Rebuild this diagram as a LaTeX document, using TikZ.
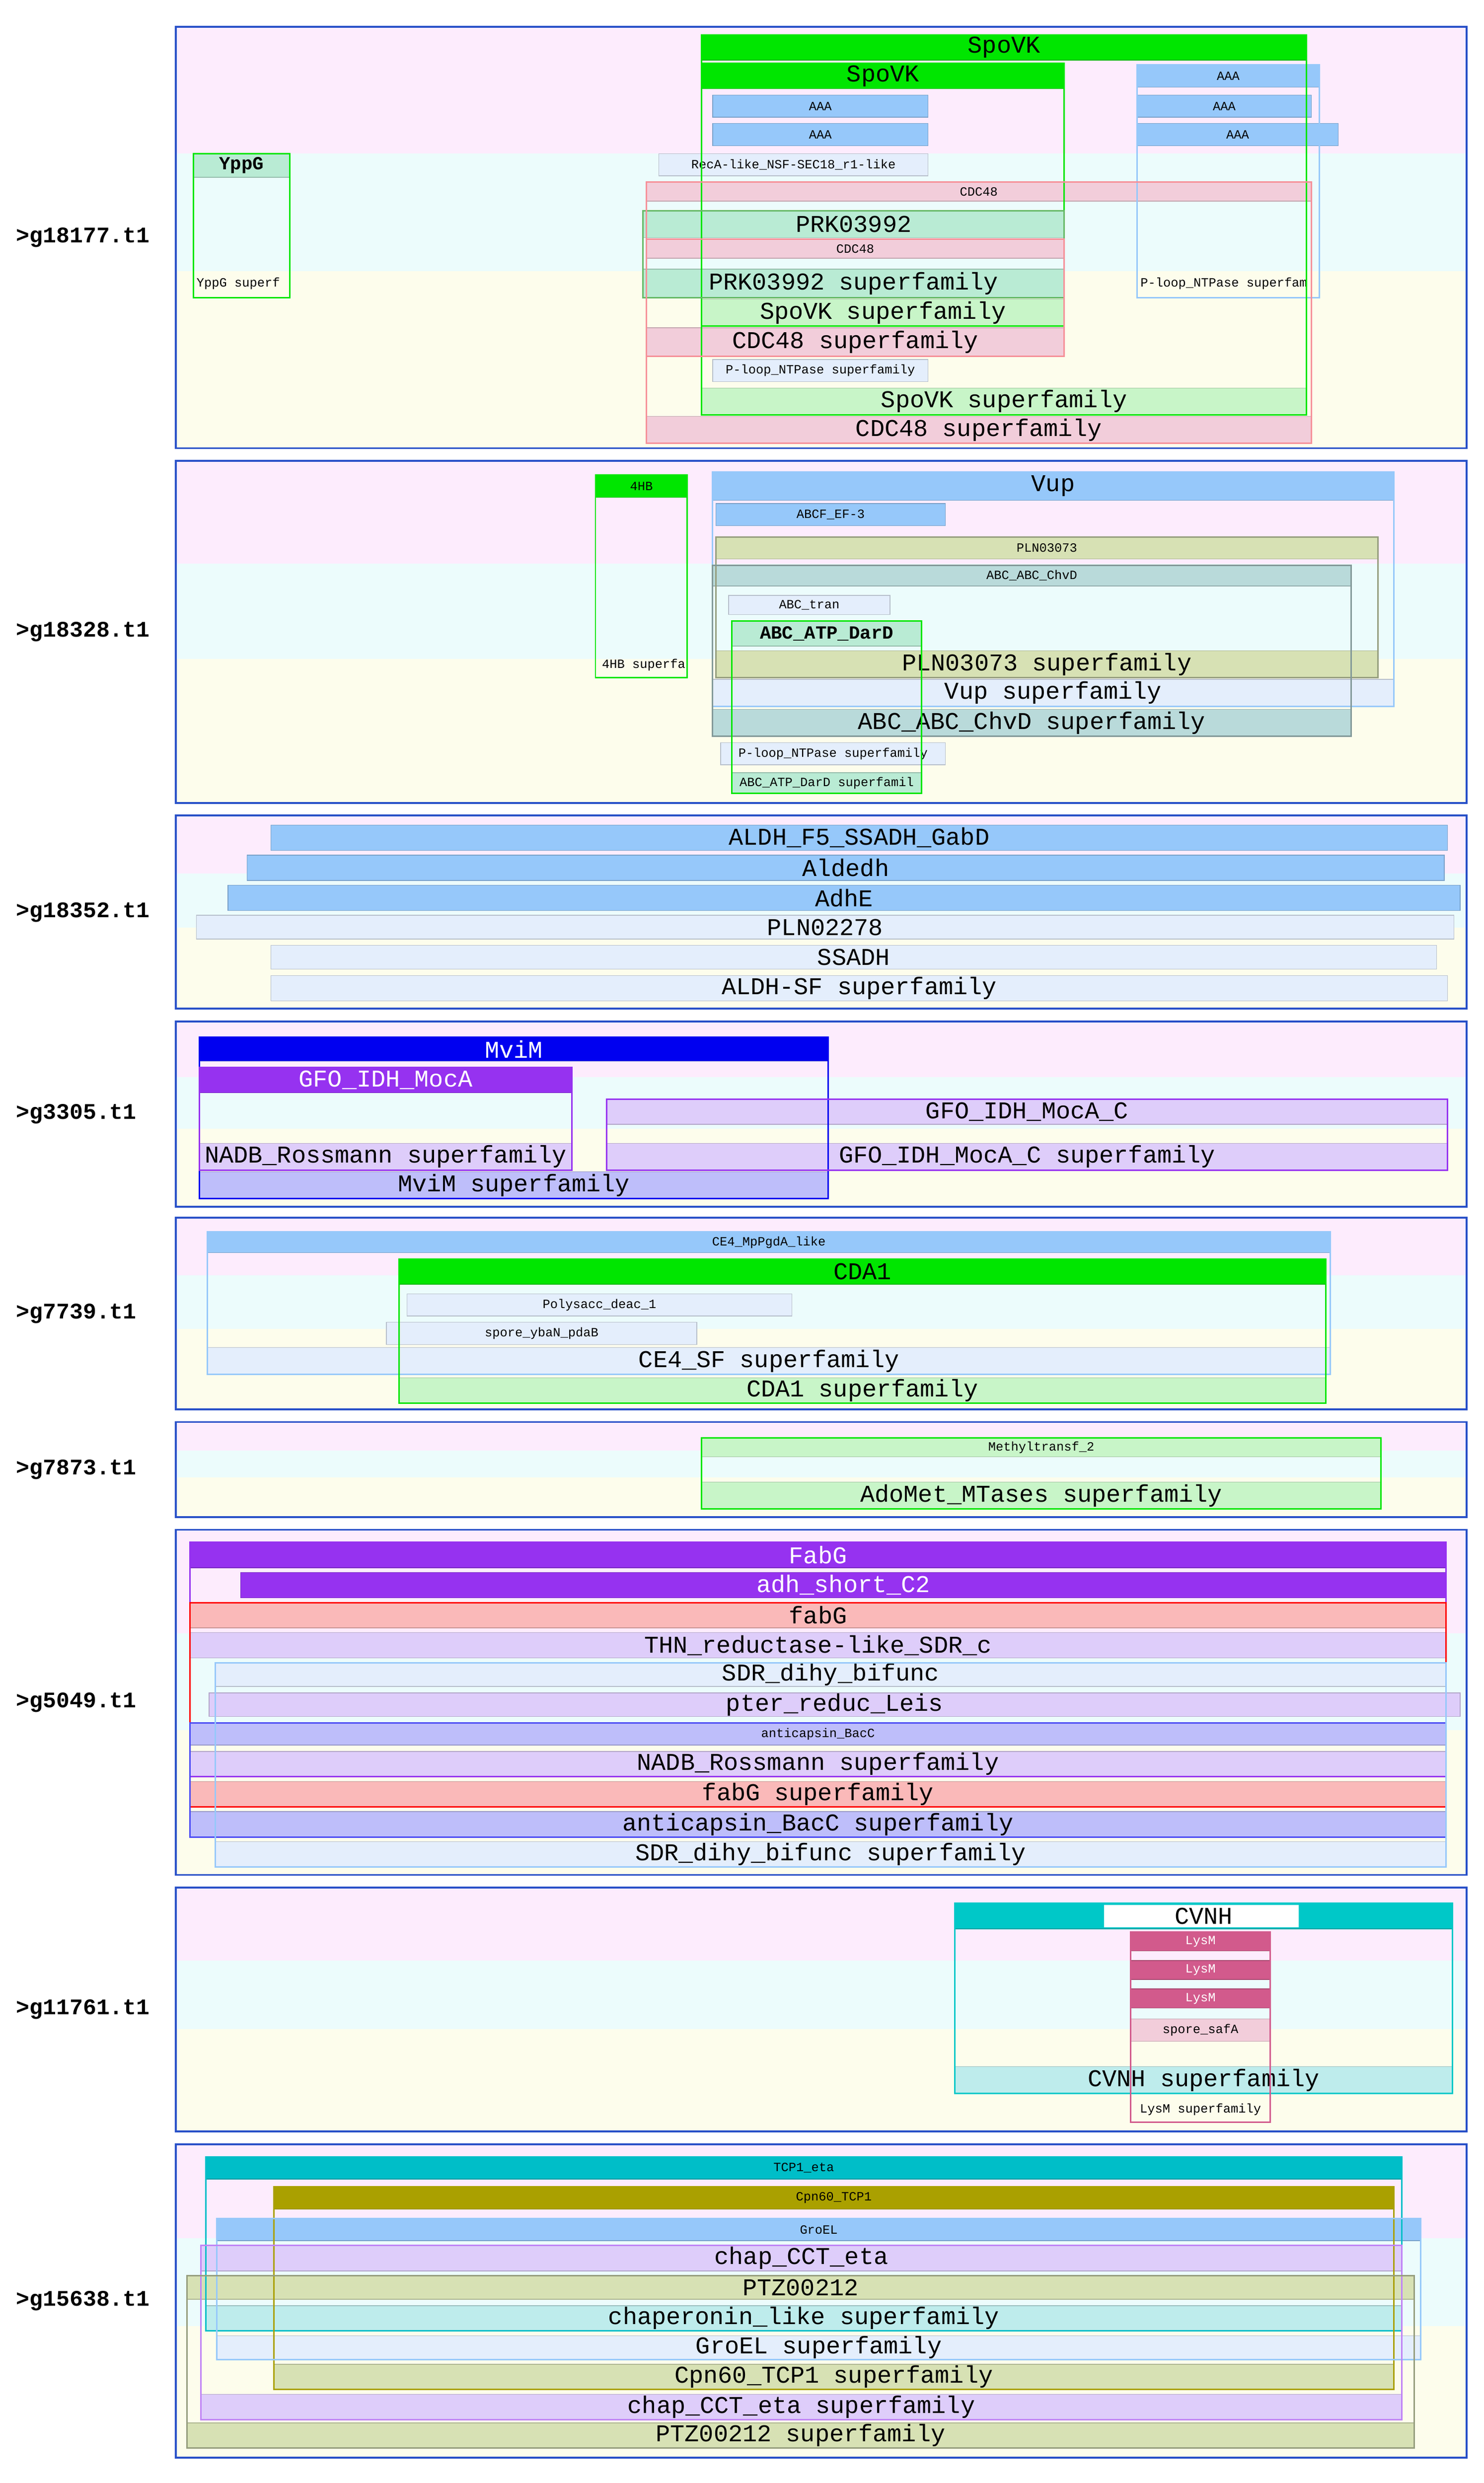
\documentclass[tikz,border=0pt]{standalone}
\usepackage{fontspec}
\setmainfont{Liberation Mono}
\newcommand\Bf{\fontsize{13}{13}\selectfont}
\newcommand\Sf{\fontsize{6.8}{7}\selectfont}
\newcommand\Lf{\fontsize{12}{12}\selectfont\bfseries}
\definecolor{pk}{RGB}{253,236,253}\definecolor{cy}{RGB}{236,252,252}\definecolor{yl}{RGB}{253,253,236}
\definecolor{fr}{RGB}{40,80,200}
\definecolor{gr}{RGB}{0,230,0}\definecolor{lgr}{RGB}{200,245,200}
\definecolor{bl}{RGB}{150,200,250}\definecolor{vlb}{RGB}{228,238,252}
\definecolor{pi}{RGB}{242,205,218}\definecolor{mi}{RGB}{185,235,212}
\definecolor{ol}{RGB}{215,225,180}\definecolor{te}{RGB}{185,218,218}
\definecolor{db}{RGB}{0,0,240}\definecolor{pu}{RGB}{150,50,240}
\definecolor{lpu}{RGB}{222,205,250}\definecolor{bp}{RGB}{190,190,250}
\definecolor{sa}{RGB}{250,185,185}\definecolor{tl}{RGB}{0,200,200}
\definecolor{ltl}{RGB}{190,236,236}\definecolor{ly}{RGB}{210,90,140}
\definecolor{oli}{RGB}{170,160,0}\definecolor{tc}{RGB}{0,190,200}
\tikzset{B/.style={font=\Bf},S/.style={font=\Sf}}
% x1 x2 y1 y2 fill nodeopts text
\newcommand\bx[7]{\filldraw[fill=#5,draw=#5!80!black,line width=0.4pt] (#1,#3) rectangle (#2,#4);
 \node[#6,inner sep=0pt] at ({(#1+#2)/2},{(#3+#4)/2}) {#7};}
\newcommand\fm[5]{\draw[#5,line width=0.8pt] (#1,#3) rectangle (#2,#4);}
\newcommand\panel[3]{\fill[pk] (111,#1) rectangle (926,{#1+0.3*(#2-#1)});
 \fill[cy] (111,{#1+0.3*(#2-#1)}) rectangle (926,{#1+0.58*(#2-#1)});
 \fill[yl] (111,{#1+0.58*(#2-#1)}) rectangle (926,#2);
 \draw[fr,line width=1pt] (111,#1) rectangle (926,#2);
 \node[font=\Lf,anchor=west,inner sep=0pt] at (10,{(#1+#2)/2}) {#3};}
\begin{document}
\begin{tikzpicture}[x=0.03cm,y=-0.03cm]
\useasboundingbox[fill=white] (0,0) rectangle (937,1568);
% panel 1
\panel{17}{283}{>g18177.t1}
\bx{443}{825}{22}{38}{gr}{B}{SpoVK}
\bx{443}{672}{40}{56}{gr}{B}{SpoVK}
\bx{450}{586}{60}{74}{bl}{S}{AAA}
\bx{450}{586}{78}{92}{bl}{S}{AAA}
\bx{718}{833}{41}{55}{bl}{S}{AAA}
\bx{718}{828}{60}{74}{bl}{S}{AAA}
\bx{718}{845}{78}{92}{bl}{S}{AAA}
\bx{416}{586}{97}{111}{vlb}{S}{RecA-like\_NSF-SEC18\_r1-like}
\bx{408}{828}{115}{127}{pi}{S}{CDC48}
\bx{406}{672}{133}{150}{mi}{B}{PRK03992}
\bx{408}{672}{151}{163}{pi}{S}{CDC48}
\bx{406}{672}{170}{188}{mi}{B}{PRK03992 superfamily}
\bx{443}{672}{189}{206}{lgr}{B}{SpoVK superfamily}
\bx{408}{672}{207}{225}{pi}{B}{CDC48 superfamily}
\bx{450}{586}{227}{241}{vlb}{S}{P-loop\_NTPase superfamily}
\bx{443}{825}{245}{262}{lgr}{B}{SpoVK superfamily}
\bx{408}{828}{263}{280}{pi}{B}{CDC48 superfamily}
\bx{122}{183}{97}{112}{mi}{B,font=\Bf\bfseries\fontsize{10}{10}\selectfont}{YppG}
\node[S,anchor=west] at (120,179) {YppG superf};
\node[S,anchor=west] at (716,179) {P-loop\_NTPase superfam};
\fm{122}{183}{97}{188}{gr}
\fm{718}{833}{41}{188}{bl}
\fm{443}{825}{22}{262}{gr}
\fm{443}{672}{40}{206}{gr}
\fm{406}{672}{133}{188}{gr!60!black!60}
\fm{408}{672}{151}{225}{pi!70!red}
\fm{408}{828}{115}{280}{pi!70!red}
% panel 2
\panel{291}{507}{>g18328.t1}
\bx{376}{434}{300}{314}{gr}{S}{4HB}
\node[S,anchor=west] at (376,420) {4HB superfa};
\bx{450}{880}{298}{316}{bl}{B}{Vup}
\bx{452}{597}{318}{332}{bl}{S}{ABCF\_EF-3}
\bx{452}{870}{339}{353}{ol}{S}{PLN03073}
\bx{450}{853}{357}{370}{te}{S}{ABC\_ABC\_ChvD}
\bx{460}{562}{376}{388}{vlb}{S}{ABC\_tran}
\bx{462}{582}{392}{408}{mi}{B,font=\fontsize{10}{10}\selectfont\bfseries}{ABC\_ATP\_DarD}
\bx{452}{870}{411}{428}{ol}{B}{PLN03073 superfamily}
\bx{450}{880}{429}{446}{vlb}{B}{Vup superfamily}
\bx{450}{853}{448}{465}{te}{B}{ABC\_ABC\_ChvD superfamily}
\bx{455}{597}{469}{483}{vlb}{S}{P-loop\_NTPase superfamily}
\bx{462}{582}{488}{501}{mi}{S}{ABC\_ATP\_DarD superfamil}
\fm{376}{434}{300}{428}{gr}
\fm{450}{880}{298}{446}{bl}
\fm{452}{870}{339}{428}{ol!70!black}
\fm{450}{853}{357}{465}{te!70!black}
\fm{462}{582}{392}{501}{gr}
% panel 3
\panel{515}{637}{>g18352.t1}
\bx{171}{914}{521}{537}{bl}{B}{ALDH\_F5\_SSADH\_GabD}
\bx{156}{912}{540}{556}{bl}{B}{Aldedh}
\bx{144}{922}{559}{575}{bl}{B}{AdhE}
\bx{124}{918}{578}{593}{vlb}{B}{PLN02278}
\bx{171}{907}{597}{612}{vlb}{B}{SSADH}
\bx{171}{914}{616}{632}{vlb}{B}{ALDH-SF superfamily}
% panel 4
\panel{645}{762}{>g3305.t1}
\bx{126}{523}{655}{670}{db}{B,white}{MviM}
\bx{126}{361}{674}{690}{pu}{B,white}{GFO\_IDH\_MocA}
\bx{383}{914}{694}{710}{lpu}{B}{GFO\_IDH\_MocA\_C}
\bx{126}{361}{722}{739}{lpu}{B}{NADB\_Rossmann superfamily}
\bx{383}{914}{722}{739}{lpu}{B}{GFO\_IDH\_MocA\_C superfamily}
\bx{126}{523}{740}{757}{bp}{B}{MviM superfamily}
\fm{126}{523}{655}{757}{db}
\fm{126}{361}{674}{739}{pu}
\fm{383}{914}{694}{739}{pu}
% panel 5
\panel{769}{890}{>g7739.t1}
\bx{131}{840}{778}{791}{bl}{S}{CE4\_MpPgdA\_like}
\bx{252}{837}{795}{811}{gr}{B}{CDA1}
\bx{257}{500}{817}{831}{vlb}{S}{Polysacc\_deac\_1}
\bx{244}{440}{835}{849}{vlb}{S}{spore\_ybaN\_pdaB}
\bx{131}{840}{851}{868}{vlb}{B}{CE4\_SF superfamily}
\bx{252}{837}{870}{886}{lgr}{B}{CDA1 superfamily}
\fm{131}{840}{778}{868}{bl}
\fm{252}{837}{795}{886}{gr}
% panel 6
\panel{898}{958}{>g7873.t1}
\bx{443}{872}{908}{920}{lgr}{S}{Methyltransf\_2}
\bx{443}{872}{936}{953}{lgr}{B}{AdoMet\_MTases superfamily}
\fm{443}{872}{908}{953}{gr}
% panel 7
\panel{966}{1184}{>g5049.t1}
\bx{120}{913}{974}{990}{pu}{B,white}{FabG}
\bx{152}{913}{993}{1009}{pu}{B,white}{adh\_short\_C2}
\bx{120}{913}{1012}{1028}{sa}{B}{fabG}
\bx{120}{913}{1031}{1047}{lpu}{B}{THN\_reductase-like\_SDR\_c}
\bx{136}{913}{1050}{1065}{vlb}{B}{SDR\_dihy\_bifunc}
\bx{132}{922}{1069}{1084}{lpu}{B}{pter\_reduc\_Leis}
\bx{120}{913}{1088}{1102}{bp}{S}{anticapsin\_BacC}
\bx{120}{913}{1106}{1122}{lpu}{B}{NADB\_Rossmann superfamily}
\bx{120}{913}{1125}{1141}{sa}{B}{fabG superfamily}
\bx{120}{913}{1144}{1160}{bp}{B}{anticapsin\_BacC superfamily}
\bx{136}{913}{1163}{1179}{vlb}{B}{SDR\_dihy\_bifunc superfamily}
\fm{120}{913}{974}{1122}{pu}
\fm{120}{913}{1012}{1141}{red}
\fm{120}{913}{1088}{1160}{db!70}
\fm{136}{913}{1050}{1179}{bl}
% panel 8
\panel{1192}{1346}{>g11761.t1}
\bx{603}{917}{1202}{1218}{tl}{B}{CVNH}
\fill[white] (697,1203) rectangle (820,1217);
\node[B,inner sep=0pt] at (760,1210) {CVNH};
\bx{714}{802}{1220}{1232}{ly}{S,white}{LysM}
\bx{714}{802}{1238}{1250}{ly}{S,white}{LysM}
\bx{714}{802}{1256}{1268}{ly}{S,white}{LysM}
\bx{714}{802}{1275}{1289}{pi}{S}{spore\_safA}
\bx{603}{917}{1305}{1322}{ltl}{B}{CVNH superfamily}
\node[S] at (758,1332) {LysM superfamily};
\fm{603}{917}{1202}{1322}{tl}
\fm{714}{802}{1220}{1340}{ly}
% panel 9
\panel{1354}{1552}{>g15638.t1}
\bx{130}{885}{1362}{1376}{tc}{S}{TCP1\_eta}
\bx{173}{880}{1381}{1395}{oli}{S}{Cpn60\_TCP1}
\bx{137}{897}{1401}{1415}{bl}{S}{GroEL}
\bx{127}{885}{1418}{1434}{lpu}{B}{chap\_CCT\_eta}
\bx{118}{893}{1437}{1452}{ol}{B}{PTZ00212}
\bx{130}{885}{1456}{1472}{ltl}{B}{chaperonin\_like superfamily}
\bx{137}{897}{1475}{1490}{vlb}{B}{GroEL superfamily}
\bx{173}{880}{1493}{1509}{ol}{B}{Cpn60\_TCP1 superfamily}
\bx{127}{885}{1512}{1528}{lpu}{B}{chap\_CCT\_eta superfamily}
\bx{118}{893}{1530}{1546}{ol}{B}{PTZ00212 superfamily}
\fm{130}{885}{1362}{1472}{tc}
\fm{173}{880}{1381}{1509}{oli}
\fm{137}{897}{1401}{1490}{bl}
\fm{127}{885}{1418}{1528}{pu!60}
\fm{118}{893}{1437}{1546}{ol!70!black}
\end{tikzpicture}
\end{document}
